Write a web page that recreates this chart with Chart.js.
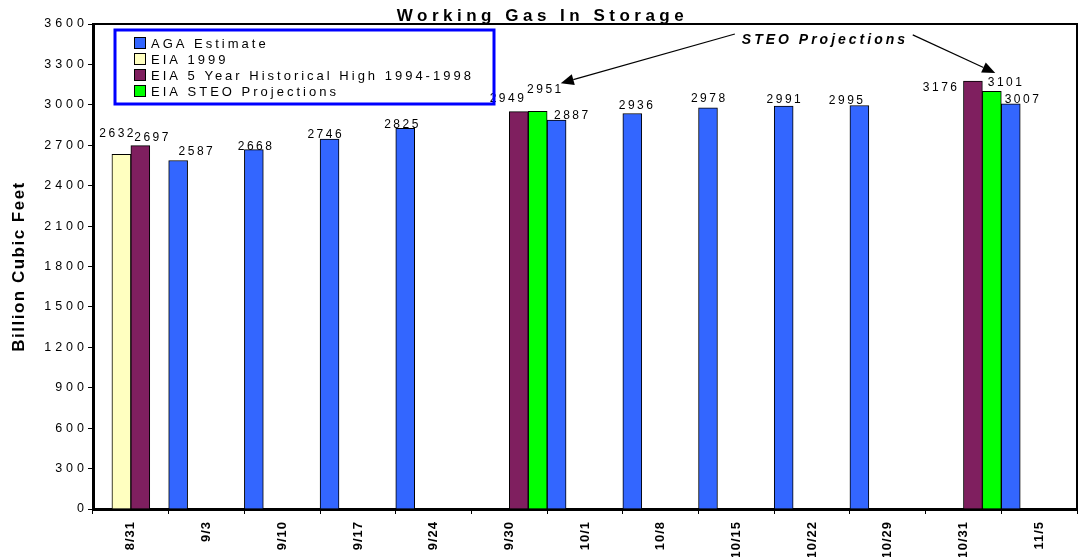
<!DOCTYPE html>
<html>
<head>
<meta charset="utf-8">
<script src="https://cdn.jsdelivr.net/npm/chart.js@4.4.1/dist/chart.umd.min.js"></script>
<style>
  html, body { margin: 0; padding: 0; background: #ffffff; }
  #wrap { width: 1081px; height: 557px; position: relative; }
</style>
</head>
<body>
<div id="wrap"><canvas id="c"></canvas></div>
<script>
// ---- data ----
const categories = ['8/31','9/3','9/10','9/17','9/24','9/30','10/1','10/8','10/15','10/22','10/29','10/31','11/5'];
const agaEstimate = [null, 2587, 2668, 2746, 2825, null, 2887, 2936, 2978, 2991, 2995, null, 3007];
const eia1999 = [2632, null, null, null, null, null, null, null, null, null, null, null, null];
const eia5YearHigh = [2697, null, null, null, null, 2949, null, null, null, null, null, 3176, null];
const steoProjections = [null, null, null, null, null, 2951, null, null, null, null, null, 3101, null];
const yTicks = [0, 300, 600, 900, 1200, 1500, 1800, 2100, 2400, 2700, 3000, 3300, 3600];

const FONT = '"Liberation Sans", Arial, sans-serif';

// label placement tweaks (dx, gap above bar) keyed "dataset:index"
const labelPlacement = {
  '0:1': [17.5, 5], '0:2': [1, 0], '0:3': [-5, 1], '0:4': [-4, 0], '0:6': [14.5, 1],
  '0:7': [3.5, 4], '0:8': [0, 6], '0:9': [0, 3], '0:10': [-13.5, 2], '0:12': [11, 1],
  '1:0': [-5, 17],
  '2:0': [11, 5], '2:5': [-12, 10], '2:11': [-33, -10],
  '3:5': [6.5, 18], '3:11': [13, 5]
};

const annotationPlugin = {
  id: 'extras',
  beforeDraw(chart) {
    const ctx = chart.ctx;
    ctx.save();
    ctx.fillStyle = '#ffffff';
    ctx.fillRect(0, 0, chart.width, chart.height);
    ctx.restore();
    const spacing = { x: '1px', y: '4px' };
    ['x', 'y'].forEach(id => {
      const s = chart.scales[id];
      if (s && !s._lsWrapped) {
        const origLabels = s.drawLabels.bind(s);
        s.drawLabels = (ca) => { ctx.save(); ctx.letterSpacing = spacing[id]; origLabels(ca); ctx.restore(); };
        const origTitle = s.drawTitle.bind(s);
        s.drawTitle = (ca) => { ctx.save(); ctx.letterSpacing = '1.5px'; origTitle(ca); ctx.restore(); };
        s._lsWrapped = true;
      }
    });
  },
  afterDatasetsDraw(chart) {
    const ctx = chart.ctx;
    const ls = 2.5;
    ctx.save();
    ctx.font = '12px ' + FONT;
    ctx.letterSpacing = ls + 'px';
    ctx.fillStyle = '#000';
    ctx.textAlign = 'center';
    ctx.textBaseline = 'alphabetic';
    chart.data.datasets.forEach((ds, di) => {
      const meta = chart.getDatasetMeta(di);
      meta.data.forEach((bar, i) => {
        const v = ds.data[i];
        if (v === null || v === undefined) return;
        const p = labelPlacement[di + ':' + i] || [0, 2];
        ctx.fillText(String(v), bar.x + p[0] + ls / 2, bar.y - p[1]);
      });
    });
    ctx.restore();
  },
  afterDraw(chart) {
    const ctx = chart.ctx;
    const ca = chart.chartArea;
    const xs = chart.scales.x, ys = chart.scales.y;
    ctx.save();
    // plot frame (top & right)
    ctx.strokeStyle = '#000';
    ctx.lineWidth = 2;
    ctx.beginPath();
    ctx.moveTo(ca.left, ca.top);
    ctx.lineTo(ca.right, ca.top);
    ctx.lineTo(ca.right, ca.bottom);
    ctx.stroke();

    // title
    ctx.font = 'bold 17px ' + FONT;
    ctx.letterSpacing = '4.5px';
    ctx.fillStyle = '#000';
    ctx.textAlign = 'center';
    ctx.textBaseline = 'alphabetic';
    ctx.fillText('Working Gas In Storage', chart.width / 2 + 2, 21);

    // legend
    const bx = 115, by = 30, bw = 379, bh = 74;
    ctx.strokeStyle = '#0000ff';
    ctx.lineWidth = 3;
    ctx.strokeRect(bx, by, bw, bh);
    ctx.font = '13px ' + FONT;
    ctx.letterSpacing = '3px';
    ctx.textAlign = 'left';
    ctx.textBaseline = 'middle';
    chart.data.datasets.forEach((ds, i) => {
      const cy = 43 + i * 16;
      ctx.fillStyle = ds.backgroundColor;
      ctx.fillRect(134.5, cy - 5.5, 11, 11);
      ctx.strokeStyle = '#000';
      ctx.lineWidth = 1;
      ctx.strokeRect(134.5, cy - 5.5, 11, 11);
      ctx.fillStyle = '#000';
      ctx.fillText(ds.label, 151, cy + 1);
    });

    // STEO annotation with arrows
    const tx = xs.getPixelForValue(9.15), ty = ys.getPixelForValue(3482);
    ctx.font = 'italic bold 14px ' + FONT;
    ctx.letterSpacing = '3px';
    ctx.textAlign = 'center';
    ctx.fillStyle = '#000';
    ctx.fillText('STEO Projections', tx + 1.5, ty);
    const arrow = (x1, y1, x2, y2) => {
      const ang = Math.atan2(y2 - y1, x2 - x1);
      const hl = 13, hw = 5.5;
      ctx.strokeStyle = '#000';
      ctx.lineWidth = 1.2;
      ctx.beginPath();
      ctx.moveTo(x1, y1);
      ctx.lineTo(x2 - hl * Math.cos(ang), y2 - hl * Math.sin(ang));
      ctx.stroke();
      ctx.fillStyle = '#000';
      ctx.beginPath();
      ctx.moveTo(x2, y2);
      ctx.lineTo(x2 - hl * Math.cos(ang) + hw * Math.sin(ang), y2 - hl * Math.sin(ang) - hw * Math.cos(ang));
      ctx.lineTo(x2 - hl * Math.cos(ang) - hw * Math.sin(ang), y2 - hl * Math.sin(ang) + hw * Math.cos(ang));
      ctx.closePath();
      ctx.fill();
    };
    arrow(xs.getPixelForValue(7.98), ys.getPixelForValue(3526), xs.getPixelForValue(5.68), ys.getPixelForValue(3161));
    arrow(xs.getPixelForValue(10.33), ys.getPixelForValue(3519), xs.getPixelForValue(11.42), ys.getPixelForValue(3237));
    ctx.restore();
  }
};

const barStyle = { borderColor: '#000000', borderWidth: 1, categoryPercentage: 1.0, barPercentage: 1.0 };

new Chart(document.getElementById('c'), {
  type: 'bar',
  data: {
    labels: categories,
    datasets: [
      Object.assign({ label: 'AGA Estimate', data: agaEstimate, backgroundColor: '#3366ff' }, barStyle),
      Object.assign({ label: 'EIA 1999', data: eia1999, backgroundColor: '#ffffc0' }, barStyle),
      Object.assign({ label: 'EIA 5 Year Historical High 1994-1998', data: eia5YearHigh, backgroundColor: '#7f1f5f' }, barStyle),
      Object.assign({ label: 'EIA STEO Projections', data: steoProjections, backgroundColor: '#00ff00' }, barStyle)
    ]
  },
  options: {
    responsive: true,
    maintainAspectRatio: false,
    animation: false,
    layout: { padding: { top: 24, right: 4, left: 0, bottom: 0 } },
    plugins: { legend: { display: false }, title: { display: false }, tooltip: { enabled: false } },
    scales: {
      x: {
        offset: true,
        grid: { display: true, offset: true, drawOnChartArea: false, drawTicks: true, tickLength: 5, color: '#000', lineWidth: 1 },
        border: { display: true, color: '#000', width: 3 },
        ticks: { color: '#000', font: { family: FONT, size: 13, weight: 'bold' }, minRotation: 90, maxRotation: 90, padding: 7, autoSkip: false },
        afterFit: (s) => { s.height = 48; }
      },
      y: {
        min: 0, max: 3600,
        afterBuildTicks: (s) => { s.ticks = yTicks.map(v => ({ value: v })); },
        grid: { display: true, drawOnChartArea: false, drawTicks: true, tickLength: 5, color: '#000', lineWidth: 1 },
        border: { display: true, color: '#000', width: 3 },
        ticks: { color: '#000', font: { family: FONT, size: 12.5 }, padding: 0, callback: (v) => String(v) },
        title: { display: true, text: 'Billion Cubic Feet', color: '#000', font: { family: FONT, size: 17, weight: 'bold' }, padding: { top: 9, bottom: 0 } },
        afterFit: (s) => { s.width = 93; }
      }
    }
  },
  plugins: [annotationPlugin]
});
</script>
</body>
</html>
